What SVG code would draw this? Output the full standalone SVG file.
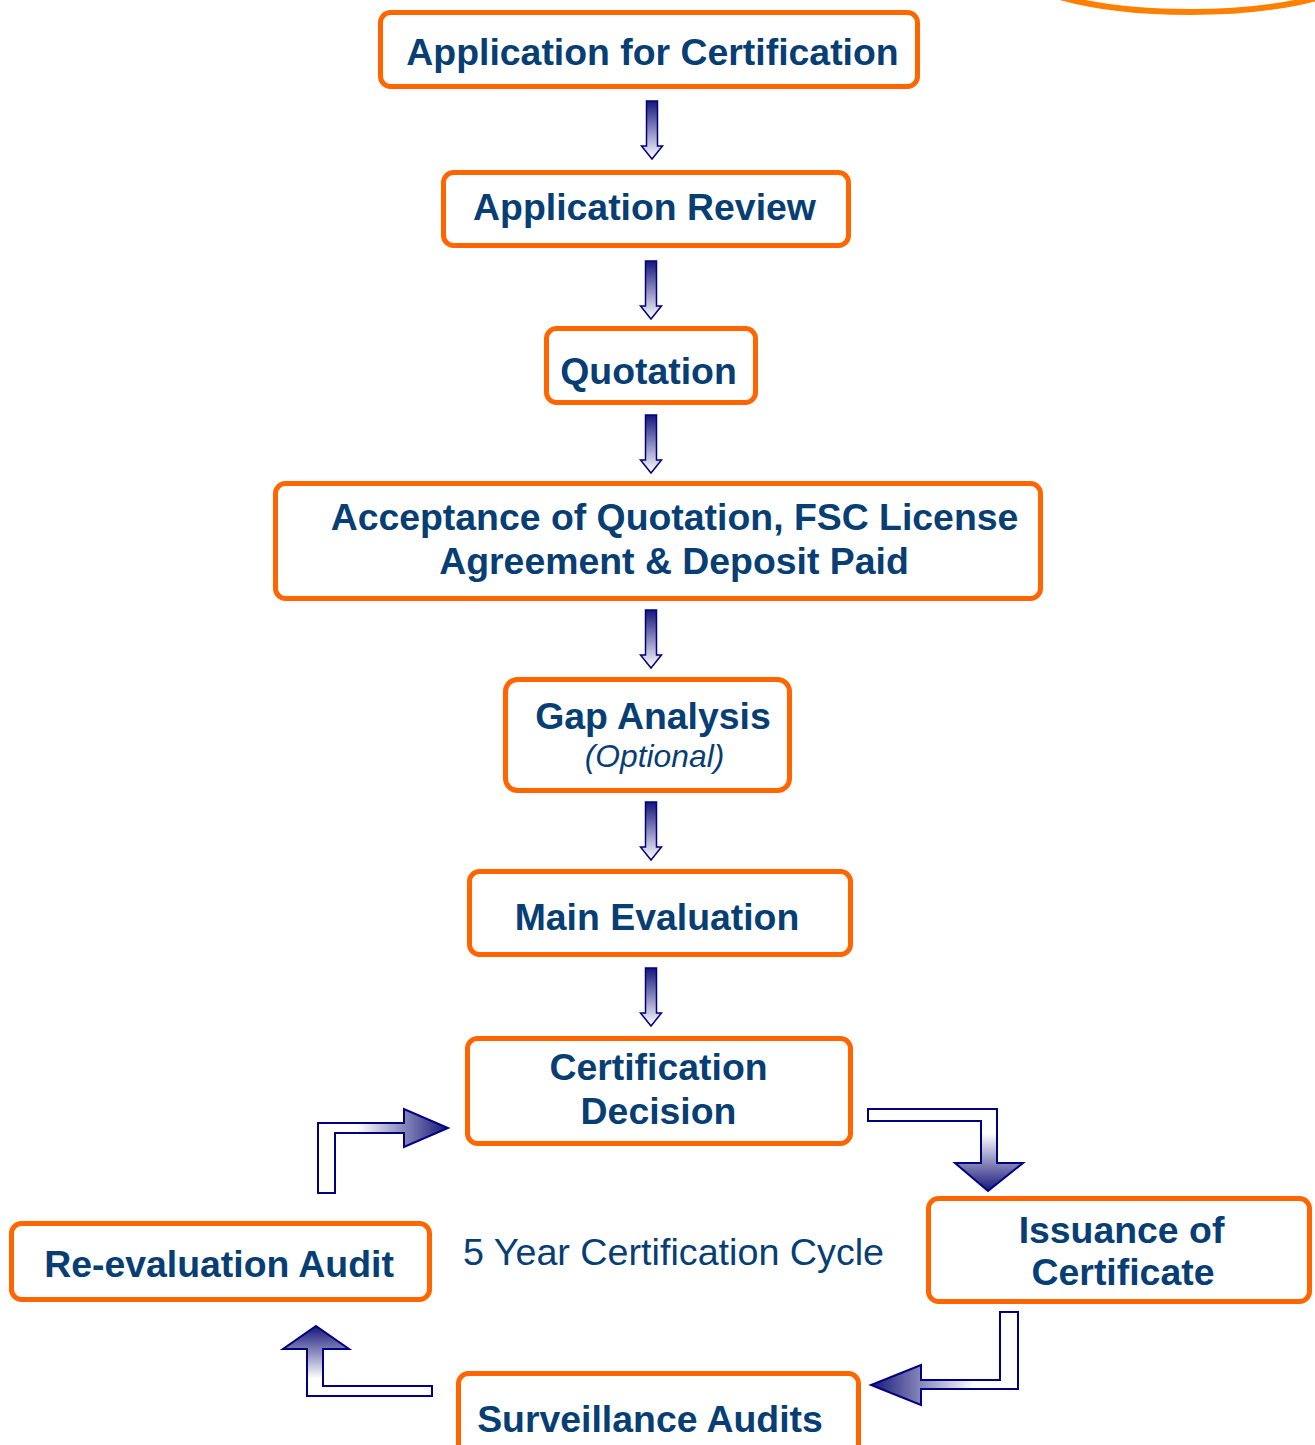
<svg xmlns="http://www.w3.org/2000/svg" xmlns:xlink="http://www.w3.org/1999/xlink" width="1315" height="1445" viewBox="0 0 1315 1445">
<defs>
<style>
.box{fill:#fff;stroke:#FF6600;stroke-width:5}
.t{font-family:"Liberation Sans",Arial,sans-serif;font-weight:bold;font-size:37.4px;fill:#073E74;text-anchor:middle}
.it{font-family:"Liberation Sans",Arial,sans-serif;font-style:italic;font-size:31.8px;fill:#073E74;text-anchor:middle}
.pl{font-family:"Liberation Sans",Arial,sans-serif;font-size:37.7px;fill:#073E74}
.arr{stroke:#000080;stroke-width:2;stroke-linejoin:miter}
</style>
<linearGradient id="gDown" x1="0" y1="0" x2="0" y2="1">
<stop offset="0" stop-color="#16167A"/><stop offset="1" stop-color="#FFFFFF"/>
</linearGradient>
<linearGradient id="gUpWhite" x1="0" y1="0" x2="0" y2="1">
<stop offset="0" stop-color="#FFFFFF"/><stop offset="0.3" stop-color="#FFFFFF"/><stop offset="1" stop-color="#16167A"/>
</linearGradient>
<linearGradient id="gRight" x1="0" y1="0" x2="1" y2="0">
<stop offset="0" stop-color="#FFFFFF"/><stop offset="0.3" stop-color="#FFFFFF"/><stop offset="1" stop-color="#16167A"/>
</linearGradient>
<linearGradient id="gLeft" x1="0" y1="0" x2="1" y2="0">
<stop offset="0" stop-color="#16167A"/><stop offset="0.7" stop-color="#FFFFFF"/><stop offset="1" stop-color="#FFFFFF"/>
</linearGradient>
<linearGradient id="gUp" x1="0" y1="0" x2="0" y2="1">
<stop offset="0" stop-color="#16167A"/><stop offset="0.75" stop-color="#FFFFFF"/><stop offset="1" stop-color="#FFFFFF"/>
</linearGradient>
<polygon id="darr" points="-5.5,0 5.5,0 5.5,45 10.5,45 0,58 -10.5,45 -5.5,45" fill="url(#gDown)" stroke="#000080" stroke-width="1.5"/>
</defs>
<rect width="1315" height="1445" fill="#fff"/>
<ellipse cx="1190" cy="-40" rx="185" ry="52" fill="none" stroke="#FF8000" stroke-width="6"/>

<g id="connectors">
<use xlink:href="#darr" x="652" y="101"/>
<use xlink:href="#darr" x="651" y="261"/>
<use xlink:href="#darr" x="651" y="415"/>
<use xlink:href="#darr" x="651" y="610"/>
<use xlink:href="#darr" x="651" y="802"/>
<use xlink:href="#darr" x="651" y="968"/>
<polygon class="arr" fill="url(#gUpWhite)" points="868,1109 997,1109 997,1163 1023,1163 988,1191 955,1163 981,1163 981,1121 868,1121"/>
<polygon class="arr" fill="url(#gRight)" points="318,1193 318,1123 404,1123 404,1109 448,1128 404,1147 404,1133 335,1133 335,1193"/>
<polygon class="arr" fill="url(#gUp)" points="316,1326 349,1349 323,1349 323,1386 432,1386 432,1396 307,1396 307,1349 283,1349"/>
<polygon class="arr" fill="url(#gLeft)" points="1000,1312 1018,1312 1018,1389 921,1389 921,1405 871,1385 921,1365 921,1380 1000,1380"/>
</g>

<g id="n1"><rect class="box" x="380.5" y="12.5" width="537" height="74" rx="10"/><text class="t" x="652.5" y="65">Application for Certification</text></g>
<g id="n2"><rect class="box" x="443.5" y="172.5" width="405" height="73" rx="10"/><text class="t" x="644.5" y="220">Application Review</text></g>
<g id="n3"><rect class="box" x="546.5" y="328.5" width="209" height="74" rx="10"/><text class="t" x="648.5" y="384">Quotation</text></g>
<g id="n4"><rect class="box" x="275.5" y="483.5" width="765" height="115" rx="10"/><text class="t" x="674.5" y="530">Acceptance of Quotation, FSC License</text><text class="t" x="674" y="574">Agreement &amp; Deposit Paid</text></g>
<g id="n5"><rect class="box" x="505.5" y="679.5" width="284" height="111" rx="12"/><text class="t" x="653" y="729">Gap Analysis</text><text class="it" x="654.5" y="767">(Optional)</text></g>
<g id="n6"><rect class="box" x="469.5" y="871.5" width="381" height="83" rx="10"/><text class="t" x="657" y="930">Main Evaluation</text></g>
<g id="n7"><rect class="box" x="467.5" y="1038.5" width="383" height="105" rx="10"/><text class="t" x="658.5" y="1080">Certification</text><text class="t" x="658.5" y="1124">Decision</text></g>
<g id="n8"><rect class="box" x="928.5" y="1198.5" width="381" height="103" rx="10"/><text class="t" x="1121.5" y="1243">Issuance of</text><text class="t" x="1123" y="1285">Certificate</text></g>
<g id="n9"><rect class="box" x="11.5" y="1223.5" width="418" height="76" rx="10"/><text class="t" x="219" y="1277">Re-evaluation Audit</text></g>
<g id="n10"><rect class="box" x="458.5" y="1373.5" width="400" height="85" rx="10"/><text class="t" x="650" y="1432">Surveillance Audits</text></g>
<text class="pl" x="463" y="1265">5 Year Certification Cycle</text>
</svg>
